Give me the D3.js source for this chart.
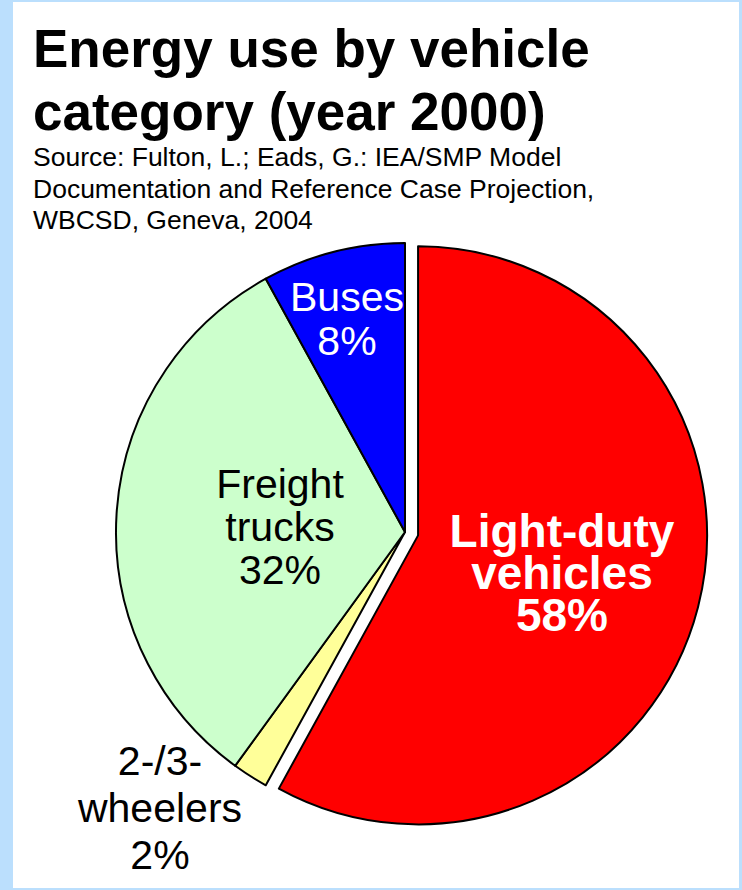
<!DOCTYPE html>
<html>
<head>
<meta charset="utf-8">
<script src="https://cdn.jsdelivr.net/npm/d3@7"></script>
<style>
  html, body { margin: 0; padding: 0; background: #bbdffd; }
  svg { display: block; }
</style>
</head>
<body>
<svg id="chart" width="742" height="890"></svg>
<script>
// Energy use by vehicle category, share of total (year 2000)
const categories = ["Light-duty vehicles", "2-/3-wheelers", "Freight trucks", "Buses"];
const shares = [58, 2, 32, 8];
const sliceColors = ["#ff0000", "#ffff99", "#ccffcc", "#0000ff"];
const labelLines = [["Light-duty", "vehicles", "58%"], ["2-/3-", "wheelers", "2%"], ["Freight", "trucks", "32%"], ["Buses", "8%"]];
const titleLines = ["Energy use by vehicle", "category (year 2000)"];
const sourceLines = [
  "Source: Fulton, L.; Eads, G.: IEA/SMP Model",
  "Documentation and Reference Case Projection,",
  "WBCSD, Geneva, 2004"
];

const svg = d3.select("#chart");
const W = 742, H = 890;

// page background and white panel
svg.append("rect").attr("width", W).attr("height", H).attr("fill", "#bbdffd");
svg.append("rect").attr("x", 13).attr("y", 2).attr("width", 726).attr("height", 886).attr("fill", "#ffffff");

// title
svg.append("g").selectAll("text").data(titleLines).join("text")
  .attr("x", 33)
  .attr("y", (d, i) => 67 + i * 63)
  .attr("font-family", "Liberation Sans, Arial, sans-serif")
  .attr("font-weight", "bold")
  .attr("font-size", 53)
  .attr("fill", "#000")
  .text(d => d);

// source note
svg.append("g").selectAll("text").data(sourceLines).join("text")
  .attr("x", 33)
  .attr("y", (d, i) => 166 + i * 31.5)
  .attr("font-family", "Liberation Sans, Arial, sans-serif")
  .attr("font-size", 26.5)
  .attr("fill", "#000")
  .text(d => d);

// pie
const cx = 405, cy = 532, R = 289, explode = 13.5;
const pie = d3.pie().sort(null).value(d => d.value);
const arcs = pie(categories.map((c, i) => ({ name: c, value: shares[i], color: sliceColors[i], lines: labelLines[i] })));
const arc = d3.arc().innerRadius(0).outerRadius(R);

const g = svg.append("g").attr("transform", `translate(${cx},${cy})`);

// the largest slice is pulled out along its bisector
function offset(d, i) {
  if (i !== 0) return [0, 0];
  const a = (d.startAngle + d.endAngle) / 2;
  return [Math.sin(a) * explode, -Math.cos(a) * explode];
}

g.selectAll("path").data(arcs).join("path")
  .attr("d", arc)
  .attr("transform", (d, i) => { const o = offset(d, i); return `translate(${o[0]},${o[1]})`; })
  .attr("fill", d => d.data.color)
  .attr("stroke", "#000")
  .attr("stroke-width", 2)
  .attr("stroke-linejoin", "round");

// slice labels
const labelSpecs = [
  { x: 562, y0: 547, dy: 42, size: 46, weight: "bold", fill: "#fff" },
  { x: 160, y0: 775, dy: 47, size: 41, weight: "normal", fill: "#000" },
  { x: 280, y0: 498, dy: 43, size: 41, weight: "normal", fill: "#000" },
  { x: 347, y0: 311, dy: 44, size: 41, weight: "normal", fill: "#fff" }
];

const lg = svg.append("g");
arcs.forEach((d, i) => {
  const s = labelSpecs[i];
  const t = lg.append("text")
    .attr("text-anchor", "middle")
    .attr("font-family", "Liberation Sans, Arial, sans-serif")
    .attr("font-size", s.size)
    .attr("font-weight", s.weight)
    .attr("fill", s.fill);
  d.data.lines.forEach((line, j) => {
    t.append("tspan").attr("x", s.x).attr("y", s.y0 + j * s.dy).text(line);
  });
});
</script>
</body>
</html>
